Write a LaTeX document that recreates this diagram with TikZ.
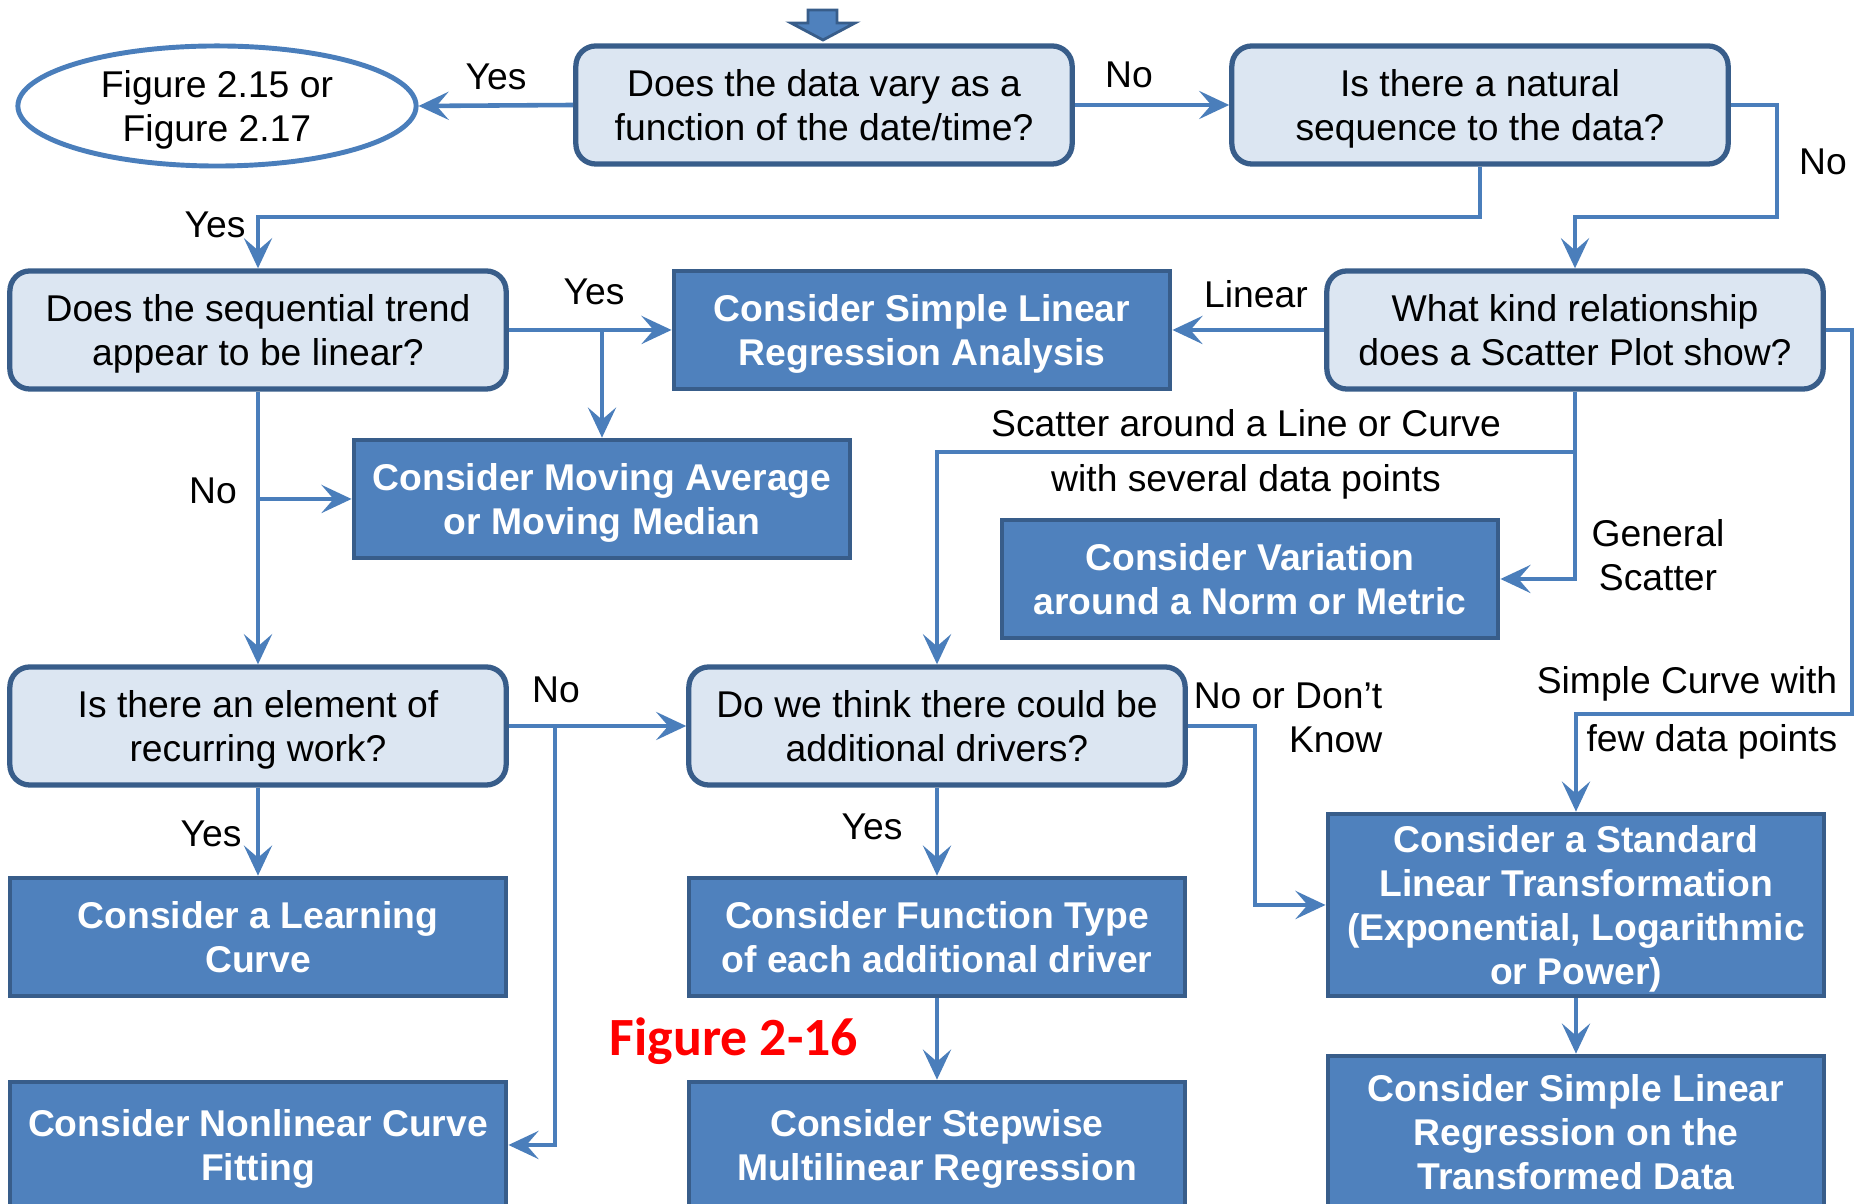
\documentclass[tikz,border=0pt]{standalone}
\usepackage{fontspec}
\setmainfont{Liberation Sans}
\newfontfamily\figfont{Carlito}
\usetikzlibrary{arrows.meta,shapes.geometric}
\definecolor{qfill}{HTML}{DCE6F2}
\definecolor{boxline}{HTML}{385D8A}
\definecolor{afill}{HTML}{4F81BD}
\definecolor{linkblue}{HTML}{4A7EBB}

\begin{document}
\begin{tikzpicture}[x=0.01cm,y=-0.01cm,
    txt/.style={font=\fontsize{10.6}{12.4}\selectfont},
    question/.style={txt,text depth=0pt,draw=boxline,fill=qfill,line width=1.5pt,rounded corners=0.2cm,
      minimum width=4.96cm,minimum height=1.18cm,align=center,inner sep=0pt},
    action/.style={text depth=0pt,draw=boxline,fill=afill,line width=1.3pt,text=white,
      minimum width=4.96cm,minimum height=1.18cm,align=center,inner sep=0pt,
      font=\fontsize{10.6}{12.6}\selectfont\bfseries},
    flow/.style={draw=linkblue,line width=1.3pt,-{Stealth[length=0.3cm,width=0.28cm,inset=0.12cm]}},
    lbl/.style={txt,inner sep=0pt,align=center}]
  \useasboundingbox (0,0) rectangle (1856,1204);

  \filldraw[fill=afill,draw=boxline,line width=0.8pt] (808,10) -- (837,10) -- (837,23) -- (855,23)
    -- (823,40) -- (791,23) -- (808,23) -- cycle;

  \node[ellipse,draw=linkblue,line width=1.4pt,minimum width=3.98cm,minimum height=1.2cm,txt,text depth=0pt,align=center,inner sep=0pt]
    (fig) at (217,106) {Figure 2.15 or\\Figure 2.17};
  \node[question] (A) at (824,105) {Does the data vary as a\\function of the date/time?};
  \node[question] (B) at (1480,105) {Is there a natural\\sequence to the data?};
  \node[question] (C) at (258,330) {Does the sequential trend\\appear to be linear?};
  \node[action] (S) at (922,330) {Consider Simple Linear\\Regression Analysis};
  \node[question] (D) at (1575,330) {What kind relationship\\does a Scatter Plot show?};
  \node[action] (M) at (602,499) {Consider Moving Average\\or Moving Median};
  \node[action] (V) at (1250,579) {Consider Variation\\around a Norm or Metric};
  \node[question] (E) at (258,726) {Is there an element of\\recurring work?};
  \node[question] (F) at (937,726) {Do we think there could be\\additional drivers?};
  \node[action] (L) at (258,937) {Consider a Learning\\Curve};
  \node[action] (FT) at (937,937) {Consider Function Type\\of each additional driver};
  \node[action,minimum height=1.82cm] (T) at (1576,905)
    {Consider a Standard\\Linear Transformation\\(Exponential, Logarithmic\\or Power)};
  \node[action,minimum height=1.26cm] (N) at (258,1145) {Consider Nonlinear Curve\\Fitting};
  \node[action,minimum height=1.26cm] (SW) at (937,1145) {Consider Stepwise\\Multilinear Regression};
  \node[action,minimum height=1.52cm] (R) at (1576,1132)
    {Consider Simple Linear\\Regression on the\\Transformed Data};

  \coordinate (bendB) at (1777,217);
  \coordinate (bendD) at (1852,714);
  \coordinate (scat) at (0,452);
  \coordinate (nlin) at (555,0);
  \coordinate (dk) at (1255,0);

  \draw[flow] (A.west) -- (fig.east);
  \draw[flow] (A.east) -- (B.west);
  \draw[flow] (B.east) -| (bendB) -| (D.north);
  \draw[flow] (B.south) -- (B.south |- bendB) -| (C.north);
  \draw[flow] (C.east) -- (S.west);
  \draw[flow] (C.east -| M.north) -- (M.north);
  \draw[flow] (D.west) -- (S.east);
  \draw[flow] (C.south) -- (E.north);
  \draw[flow] (C.south |- M.west) -- (M.west);
  \draw[flow] (D.south) -- (D.south |- scat) -| (F.north);
  \draw[flow] (D.south) |- (V.east);
  \draw[flow] (D.east) -| (bendD) -| (T.north);
  \draw[flow] (E.east) -- (F.west);
  \draw[flow] (E.east -| nlin) |- (N.east);
  \draw[flow] (E.south) -- (L.north);
  \draw[flow] (F.south) -- (FT.north);
  \draw[flow] (F.east) -| (dk |- T.west) -- (T.west);
  \draw[flow] (FT.south) -- (SW.north);
  \draw[flow] (T.south) -- (R.north);

  \node[lbl] (yA) at (496,77) {Yes};
  \node[lbl] (nA) at (1129,75) {No};
  \node[lbl] (nB) at (1823,162) {No};
  \node[lbl] (yB) at (215,225) {Yes};
  \node[lbl] (yC) at (594,292) {Yes};
  \node[lbl] (lin) at (1256,294) {Linear};
  \node[lbl] (nC) at (213,491) {No};
  \node[lbl] (sc1) at (1246,423) {Scatter around a Line or Curve};
  \node[lbl] (sc2) at (1246,482) {with several data points};
  \node[lbl] (gen) at (1658,555) {General\\Scatter};
  \node[lbl] (cv1) at (1687,684) {Simple Curve with};
  \node[lbl] (cv2) at (1712,742) {few data points};
  \node[lbl] (nE) at (556,690) {No};
  \node[lbl] (yE) at (211,834) {Yes};
  \node[lbl] (yF) at (872,827) {Yes};
  \node[lbl,align=right,anchor=east] (nF) at (1383,718) {No or Don’t\\Know};
  \node[inner sep=0pt,text=red,font=\figfont\bfseries\fontsize{15.3}{18}\selectfont] (title) at (734,1041) {Figure 2-16};
\end{tikzpicture}
\end{document}
